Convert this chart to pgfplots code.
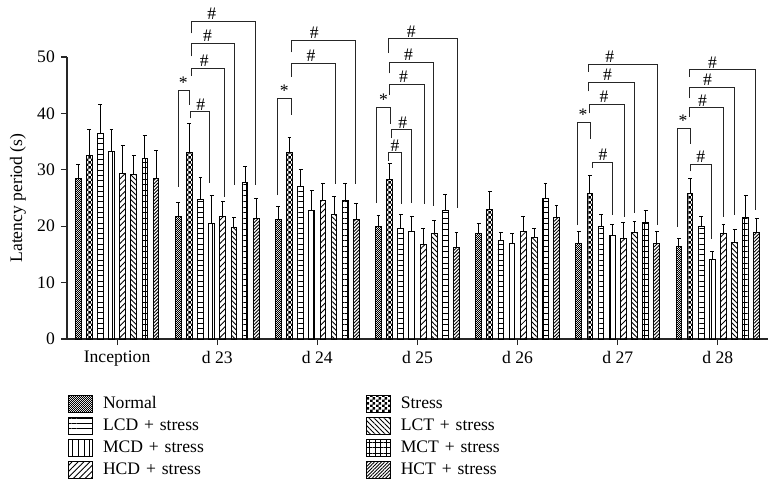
\documentclass[border=0pt]{standalone}
\usepackage{pgfplots}
\pgfplotsset{compat=1.18}
\usepackage{pgfplotstable}
\usepackage{fontspec}
\setmainfont{Liberation Serif}
\usetikzlibrary{patterns,patterns.meta}

\pgfdeclarepatternformonly{finecheck}{\pgfpointorigin}{\pgfqpoint{1.2pt}{1.2pt}}{\pgfqpoint{1.2pt}{1.2pt}}{%
  \pgfpathrectangle{\pgfpointorigin}{\pgfqpoint{0.6pt}{0.6pt}}%
  \pgfpathrectangle{\pgfqpoint{0.6pt}{0.6pt}}{\pgfqpoint{0.6pt}{0.6pt}}%
  \pgfusepath{fill}}
\pgfdeclarepatternformonly{bigcheck}{\pgfpointorigin}{\pgfqpoint{3.4pt}{3.4pt}}{\pgfqpoint{3.4pt}{3.4pt}}{%
  \pgfpathrectangle{\pgfpointorigin}{\pgfqpoint{1.7pt}{1.7pt}}%
  \pgfpathrectangle{\pgfqpoint{1.7pt}{1.7pt}}{\pgfqpoint{1.7pt}{1.7pt}}%
  \pgfusepath{fill}}

\pgfplotstableread{
x N Ne S Se LCD LCDe MCD MCDe HCD HCDe LCT LCTe MCT MCTe HCT HCTe
0 28.5 2.5 32.5 4.6 36.5 5.1 33.3 3.9 29.4 4.9 29.1 3.5 32.0 4.0 28.4 5.1
1 21.7 2.5 33.0 5.2 24.7 4.0 20.5 4.9 21.7 2.6 19.7 1.9 27.8 2.8 21.4 3.6
2 21.2 2.3 33.1 2.7 27.0 3.0 22.7 3.7 24.5 3.1 22.1 3.1 24.6 3.0 21.2 2.9
3 19.9 2.0 28.3 2.8 19.6 2.4 19.1 2.6 16.8 2.8 18.7 2.4 22.8 2.9 16.2 2.6
4 18.7 1.7 22.9 3.2 17.5 1.3 17.0 1.7 19.1 2.7 18.0 1.6 24.9 2.6 21.6 2.0
5 17.0 2.0 25.8 3.2 19.9 2.1 18.3 2.0 17.9 2.7 18.8 2.1 20.7 2.0 17.0 2.1
6 16.4 1.4 25.8 2.7 20.0 1.8 14.1 1.4 18.7 1.6 17.1 2.3 21.6 3.8 18.9 2.4
}\data

\pgfplotsset{
  mybar/.style={ybar, bar width=0.058, bar shift=0pt, draw=black, line width=0.6pt,
    legend image code/.code={\draw[##1, line width=0.6pt] (0pt,-5.3pt) rectangle (15pt,5.3pt);},
    error bars/y dir=plus, error bars/y explicit,
    error bars/error bar style={line width=0.6pt, black, solid},
    error bars/error mark options={rotate=90, mark size=1.2pt, line width=0.6pt, black}},
}
\tikzset{
  brkline/.style={line width=0.6pt, black!85},
  brklab/.style={anchor=south, inner sep=0.8pt},
}

\newcommand{\brk}[7]{%
  \draw[brkline] (axis cs:#1,#2) |- (axis cs:#3,#5) -- (axis cs:#3,#4);
  \node[brklab] at (axis cs:#6,#5) {#7};}

\begin{document}
\fontsize{11}{13.2}\selectfont
\begin{tikzpicture}
\useasboundingbox (-41.875pt,-92.5pt) rectangle (445.625pt,211.875pt);
\begin{axis}[
  scale only axis, width=438.1pt, height=176.25pt,
  xmin=-0.5, xmax=6.5, ymin=0, ymax=50,
  axis x line=bottom, axis y line=left,
  x axis line style={-, line width=0.8pt, black!85},
  y axis line style={-, line width=0.8pt, black!85},
  xtick={0,1,2,3,4,5,6},
  xticklabels={Inception,d 23,d 24,d 25,d 26,d 27,d 28},
  ytick={0,10,20,30,40,50},
  tick align=outside, major tick length=3.75pt,
  tick style={black!85, line width=0.7pt},
  /pgf/number format/assume math mode=true,
  ylabel={Latency period (s)},
  ylabel style={at={(axis description cs:-0.0699,0.5)}, anchor=center},
  clip=false,
  legend columns=2,
  legend cell align=left,
  legend style={at={(axis description cs:0.0015,-0.199)}, anchor=north west,
    draw=none, fill=none, inner sep=0pt, outer sep=0pt,
    column sep=6.25pt, row sep=2.5pt,
    nodes={inner sep=0pt, text width=158pt, align=left}},
]
\addplot[mybar, pattern=finecheck] table[x expr=\thisrow{x}-0.389, y=N, y error=Ne] {\data};
\addlegendentry{Normal}
\addplot[mybar, pattern=bigcheck] table[x expr=\thisrow{x}-0.278, y=S, y error=Se] {\data};
\addlegendentry{Stress}
\addplot[mybar, pattern={Lines[angle=0, distance=3.3pt, line width=0.55pt]}] table[x expr=\thisrow{x}-0.167, y=LCD, y error=LCDe] {\data};
\addlegendentry{LCD + stress}
\addplot[mybar, pattern={Lines[angle=-45, distance=2.2pt, line width=0.55pt]}] table[x expr=\thisrow{x}+0.167, y=LCT, y error=LCTe] {\data};
\addlegendentry{LCT + stress}
\addplot[mybar, pattern={Lines[angle=90, distance=3.5pt, line width=0.55pt]}] table[x expr=\thisrow{x}-0.056, y=MCD, y error=MCDe] {\data};
\addlegendentry{MCD + stress}
\addplot[mybar, pattern={Hatch[angle=0, distance=3.5pt, line width=0.55pt]}] table[x expr=\thisrow{x}+0.278, y=MCT, y error=MCTe] {\data};
\addlegendentry{MCT + stress}
\addplot[mybar, pattern={Lines[angle=45, distance=2.6pt, line width=0.55pt]}] table[x expr=\thisrow{x}+0.056, y=HCD, y error=HCDe] {\data};
\addlegendentry{HCD + stress}
\addplot[mybar, pattern={Lines[angle=45, distance=1.5pt, line width=0.55pt]}] table[x expr=\thisrow{x}+0.389, y=HCT, y error=HCTe] {\data};
\addlegendentry{HCT + stress}

% d 23
\brk{0.61}{27.0}{0.72}{41.5}{44.1}{0.66}{*}
\brk{0.737}{39.1}{0.927}{27.6}{40.3}{0.837}{\#}
\brk{0.747}{46.6}{1.07}{25.2}{48.0}{0.87}{\#}
\brk{0.747}{50.1}{1.177}{27.3}{52.4}{0.903}{\#}
\brk{0.747}{54.2}{1.38}{27.3}{56.3}{0.947}{\#}
% d 24
\brk{1.603}{25.5}{1.737}{39.7}{42.7}{1.67}{*}
\brk{1.743}{46.5}{2.177}{27.5}{48.9}{1.937}{\#}
\brk{1.743}{50.8}{2.38}{27.5}{53.0}{1.97}{\#}
% d 25
\brk{2.593}{24.1}{2.727}{38.2}{41.1}{2.66}{*}
\brk{2.71}{31.6}{2.843}{23.9}{33.0}{2.777}{\#}
\brk{2.737}{35.6}{2.937}{24.1}{37.1}{2.853}{\#}
\brk{2.72}{43.3}{3.07}{23.9}{45.2}{2.86}{\#}
\brk{2.72}{47.1}{3.16}{23.6}{49.1}{2.91}{\#}
\brk{2.71}{50.7}{3.40}{23.2}{53.2}{2.937}{\#}
% d 27
\brk{4.597}{20.2}{4.727}{35.4}{38.4}{4.653}{*}
\brk{4.743}{30.3}{4.947}{22.0}{31.3}{4.853}{\#}
\brk{4.713}{40.0}{5.063}{21.7}{41.6}{4.863}{\#}
\brk{4.703}{43.9}{5.163}{22.3}{45.5}{4.897}{\#}
\brk{4.703}{47.4}{5.393}{20.3}{48.7}{4.92}{\#}
% d 28
\brk{5.597}{19.9}{5.727}{34.6}{37.4}{5.653}{*}
\brk{5.727}{29.7}{5.937}{17.7}{31.0}{5.83}{\#}
\brk{5.713}{39.4}{6.06}{21.7}{41.0}{5.847}{\#}
\brk{5.713}{42.7}{6.163}{22.0}{44.6}{5.897}{\#}
\brk{5.713}{46.5}{6.38}{22.9}{47.7}{5.947}{\#}
\end{axis}
\end{tikzpicture}
\end{document}
